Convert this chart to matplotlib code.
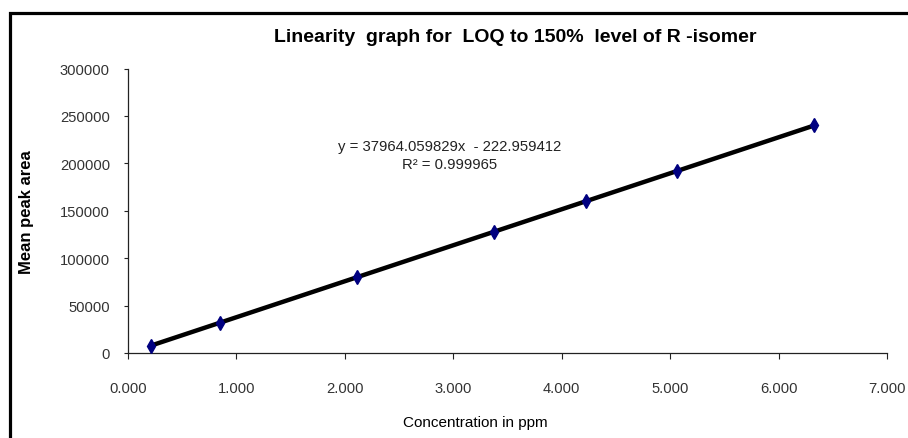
import numpy as np
import matplotlib
matplotlib.use("Agg")
import matplotlib.pyplot as plt
from matplotlib.lines import Line2D
from matplotlib.ticker import FormatStrFormatter, MultipleLocator

# data
conc_ppm = [0.211, 0.844, 2.110, 3.376, 4.220, 5.064, 6.330]
peak_area = [7810, 31750, 79950, 127800, 160100, 191900, 240100]

title_text = "Linearity  graph for  LOQ to 150%  level of R -isomer"
eq_text = "y = 37964.059829x  - 222.959412\nR² = 0.999965"

W, H = 908, 439
arial = ["Liberation Sans", "DejaVu Sans"]

fig = plt.figure(figsize=(W / 100, H / 100), dpi=100)
ax = fig.add_axes([128 / W, 1 - 354 / H, (887 - 128) / W, (354 - 69.6) / H])

# linear trendline
slope, icpt = np.polyfit(conc_ppm, peak_area, 1)
xl = np.array([min(conc_ppm), max(conc_ppm)])
ax.plot(xl, slope * xl + icpt, color="black", lw=3.2, solid_capstyle="butt", zorder=2)
ax.plot(conc_ppm, peak_area, linestyle="none", marker="d", markersize=7.5,
        color="#000080", markeredgecolor="#000080", zorder=3)

ax.set_xlim(0, 7)
ax.set_ylim(0, 300000)
ax.xaxis.set_major_locator(MultipleLocator(1))
ax.yaxis.set_major_locator(MultipleLocator(50000))
ax.xaxis.set_major_formatter(FormatStrFormatter("%.3f"))
ax.yaxis.set_major_formatter(FormatStrFormatter("%d"))

for s in ["top", "right"]:
    ax.spines[s].set_visible(False)
for s in ["left", "bottom"]:
    ax.spines[s].set_linewidth(0.9)
    ax.spines[s].set_color("#222222")

ax.tick_params(axis="y", direction="out", length=3, width=0.8, pad=10,
               colors="#222222", labelsize=10.6)
ax.tick_params(axis="x", direction="out", length=4.5, width=0.8, pad=16,
               colors="#222222", labelsize=10.6)
for lab in ax.get_xticklabels() + ax.get_yticklabels():
    lab.set_family(arial)
    lab.set_color("#333333")

ax.set_ylabel("Mean peak area", family=arial, fontweight="bold", fontsize=12)
ax.yaxis.set_label_coords((34 - 128) / 759, 0.5)
ax.set_xlabel("Concentration in ppm", family=arial, fontsize=11)
ax.xaxis.set_label_coords((475 - 128) / 759, (354 - 423) / 284.4)
ax.xaxis.label.set_va("center")

fig.text(515 / W, 1 - 37 / H, title_text, ha="center", va="center",
         family=arial, fontweight="bold", fontsize=14)
fig.text(450 / W, 1 - 156 / H, eq_text, ha="center", va="center",
         family=arial, fontsize=10.7, linespacing=1.35, color="#222222")

# chart border (left and top edges visible)
fig.add_artist(Line2D([10 / W, 10 / W, 1.0], [0, 1 - 14 / H, 1 - 14 / H],
                      transform=fig.transFigure, color="black", lw=2.3,
                      solid_joinstyle="miter"))

fig.savefig("out.png", dpi=100)
